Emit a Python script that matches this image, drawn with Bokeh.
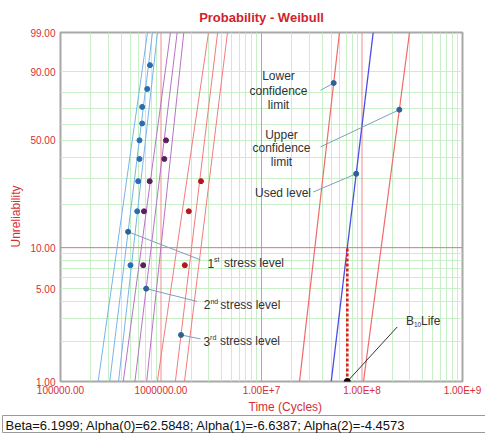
import numpy as np
from bokeh.plotting import figure
from bokeh.models import FixedTicker, Label, Span, Title
from bokeh.embed import file_html
from bokeh.resources import INLINE

# ---------------- data ----------------
ranks = [7.45, 18.09, 28.72, 39.36, 50.0, 60.64, 71.28, 81.91, 92.55]

s1_times = [4.97e5, 5.80e5, 5.93e5, 6.11e5, 6.11e5, 6.50e5, 6.50e5, 7.29e5, 7.77e5]
s1_unrel = ranks
s2_times = [6.65e5, 6.77e5, 7.72e5, 1.079e6, 1.122e6]
s2_unrel = ranks[:5]
s3_times = [1.725e6, 1.891e6, 2.50e6]
s3_unrel = ranks[:3]

# straight lines on Weibull paper: time at 1 % and at 99 % unreliability
line_unrel = [1.0, 99.0]
s1_lo = [2.37e5, 7.34e5]
s1_fit = [3.09e5, 8.23e5]
s1_hi = [3.78e5, 9.23e5]
s2_lo = [4.21e5, 1.243e6]
s2_fit = [5.50e5, 1.449e6]
s2_hi = [7.20e5, 1.686e6]
s3_lo = [9.20e5, 2.97e6]
s3_fit = [1.39e6, 3.66e6]
s3_hi = [1.713e6, 4.59e6]
use_lo = [2.39e7, 5.97e7]
use_fit = [4.94e7, 1.292e8]
use_hi = [1.035e8, 2.97e8]

x_ticks = [1e5, 1e6, 1e7, 1e8, 1e9]
x_labels = ["100000.00", "1000000.00", "1.00E+7", "1.00E+8", "1.00E+9"]
y_ticks = [1, 5, 10, 50, 90, 99]
y_labels = ["1.00", "5.00", "10.00", "50.00", "90.00", "99.00"]
y_grid = [1, 2, 3, 4, 5, 6, 7, 8, 9, 20, 30, 40, 50, 60, 70, 80, 90, 99]

title_text = "Probability - Weibull"
x_title = "Time (Cycles)"
y_title = "Unreliability"
status_text = "Beta=6.1999; Alpha(0)=62.5848; Alpha(1)=-6.6387; Alpha(2)=-4.4573"


# ---------------- helpers ----------------
def wt(pct):
    pct = np.asarray(pct, dtype=float)
    return np.log(-np.log(1.0 - pct / 100.0))


Y0, Y1 = float(wt(1.0)), float(wt(99.0))
X0, X1 = 1e5, 1e9

# page-pixel frame, used only to place annotations
FL, FR, FT, FB = 60.0, 462.0, 32.0, 382.0


def ax(xp):
    return 10 ** (5 + (xp - FL) / (FR - FL) * 4)


def ay(yp):
    return Y0 + (FB - yp) / (FB - FT) * (Y1 - Y0)


def on_line(times, pct):
    f = (float(wt(pct)) - Y0) / (Y1 - Y0)
    lt = np.log10(times[0]) + f * (np.log10(times[1]) - np.log10(times[0]))
    return 10 ** lt


RED_TXT = "#d42f36"
FONT = "Liberation Sans"

p = figure(width=485, height=433, x_axis_type="log", x_range=(X0, X1), y_range=(Y0, Y1),
           output_backend="svg", toolbar_location=None,
           min_border_left=60, min_border_right=23, min_border_top=32, min_border_bottom=51)
p.background_fill_color = "white"
p.border_fill_color = "white"
p.outline_line_color = "#a8a8a8"
p.outline_line_width = 2

# title
p.title.text = title_text
p.title.align = "center"
p.title.text_font = FONT
p.title.text_font_size = "13px"
p.title.text_font_style = "bold"
p.title.text_color = "#d21f2b"
p.title.standoff = 12
p.title.vertical_align = "top"

# axes
for axis in (p.xaxis, p.yaxis):
    axis.axis_line_color = None
    axis.major_tick_line_color = None
    axis.minor_tick_line_color = None
    axis.major_tick_out = 0
    axis.minor_tick_out = 0
    axis.major_tick_in = 0
    axis.minor_tick_in = 0
    axis.major_label_text_color = RED_TXT
    axis.major_label_text_font = FONT
    axis.major_label_text_font_size = "10px"

p.xaxis.ticker = FixedTicker(ticks=x_ticks,
                             minor_ticks=[m * d for d in [1e5, 1e6, 1e7, 1e8] for m in range(2, 10)])
p.xaxis.major_label_overrides = {float(t): l for t, l in zip(x_ticks, x_labels)}
p.xaxis.major_label_standoff = 3

yt = [float(v) for v in wt(y_ticks)]
p.yaxis.ticker = FixedTicker(ticks=yt)
p.yaxis.major_label_overrides = {t: l for t, l in zip(yt, y_labels)}
p.yaxis.major_label_standoff = 5

# axis titles and status line as titles outside the frame
p.add_layout(Title(text=x_title, align="left", offset=188, text_font=FONT,
                   text_font_size="12px", text_font_style="normal", text_color=RED_TXT,
                   standoff=0, vertical_align="middle"), "below")
p.add_layout(Title(text=status_text, align="left", offset=-58, text_font=FONT,
                   text_font_size="13px", text_font_style="normal", text_color="#111111",
                   standoff=0, vertical_align="middle",
                   border_line_color="#9a9a9a", background_fill_color="white",
                   padding=(3, 120, 2, 0)), "below")
p.add_layout(Title(text=y_title, align="left", offset=134, text_font=FONT,
                   text_font_size="12px", text_font_style="normal", text_color=RED_TXT,
                   standoff=8, vertical_align="middle"), "left")

GREEN = "#c8efc8"
p.xgrid.grid_line_color = None
p.xgrid.minor_grid_line_color = GREEN
p.ygrid.ticker = FixedTicker(ticks=[float(v) for v in wt(y_grid)])
p.ygrid.grid_line_color = GREEN

for d in [1e6, 1e7, 1e8]:
    p.add_layout(Span(location=d, dimension="height", line_color="#ef8d8d",
                      line_width=1, level="underlay"))
p.add_layout(Span(location=float(wt(10)), dimension="width", line_color="#e37373",
                  line_width=1, level="underlay"))

yl = wt(line_unrel)
BLUE_L, PURP_L, RED_L = "#78b4e8", "#b873c4", "#f27c7c"
for ln in (s1_lo, s1_fit, s1_hi):
    p.line(ln, yl, line_color=BLUE_L, line_width=1)
for ln in (s2_lo, s2_fit, s2_hi):
    p.line(ln, yl, line_color=PURP_L, line_width=1)
for ln in (s3_lo, s3_fit, s3_hi):
    p.line(ln, yl, line_color=RED_L, line_width=1)
p.line(use_lo, yl, line_color="#f06a6a", line_width=1.2)
p.line(use_hi, yl, line_color="#f06a6a", line_width=1.2)
p.line(use_fit, yl, line_color="#4b4be6", line_width=1.3)

# B10 life
b10 = on_line(use_fit, 10.0)
p.line([b10, b10], [Y0, float(wt(10))], line_color="#e02020", line_width=2.6, line_dash="3 2")

p.scatter(s1_times, wt(s1_unrel), size=5, color="#2b6cb0")
p.scatter(s2_times, wt(s2_unrel), size=5, color="#5b1e5e")
p.scatter(s3_times, wt(s3_unrel), size=5, color="#b5151c")

# ---------------- callouts ----------------
CO = "#7f9fbf"
DOT = "#2e6196"
callouts = [
    (on_line(use_lo, 85.0), float(wt(85.0)), ax(320), ay(90)),
    (on_line(use_hi, 69.5), float(wt(69.5)), ax(320), ay(146.7)),
    (on_line(use_fit, 32.0), float(wt(32.0)), ax(312.7), ay(192)),
    (on_line(s1_fit, 13.0), float(wt(13.0)), ax(200), ay(260)),
    (on_line(s2_fit, 5.0), float(wt(5.0)), ax(196.7), ay(301.7)),
    (on_line(s3_fit, 2.25), float(wt(2.25)), ax(200), ay(339.3)),
]
for x0, y0, x1, y1 in callouts:
    p.line([x0, x1], [y0, y1], line_color=CO, line_width=1)
p.scatter([c[0] for c in callouts], [c[1] for c in callouts], size=5, color=DOT)

p.line([b10, ax(396.7)], [Y0, ay(327.3)], line_color="#333333", line_width=1)
p.scatter([b10], [Y0], size=6, color="black")


def lab(xp, yp, text, size="12px", align="center", color="#333333"):
    lb = Label(x=ax(xp), y=ay(yp), text=text, text_font=FONT, text_font_size=size,
               text_color=color, text_align=align, text_baseline="middle")
    p.add_layout(lb)
    return lb


for txt, yy in (("Lower", 76), ("confidence", 90.7), ("limit", 104.3)):
    lab(278, yy, txt)
for txt, yy in (("Upper", 135), ("confidence", 148.3), ("limit", 162.3)):
    lab(281, yy, txt)
lab(282.5, 192.7, "Used level")

for x0, yy, num, sup in ((207, 263.3, "1", "st"), (203.3, 305, "2", "nd"), (203, 341.7, "3", "rd")):
    lab(x0, yy, num, align="left")
    lab(x0 + 6.6, yy - 3.5, sup, size="7px", align="left")
    lab(x0 + 16.5, yy, "stress level", align="left")

lab(405.5, 321, "B", align="left")
lab(413.5, 324.5, "10", size="6.5px", align="left")
lab(420.5, 321, "Life", align="left")

open("out.html", "w").write(file_html(p, INLINE))
